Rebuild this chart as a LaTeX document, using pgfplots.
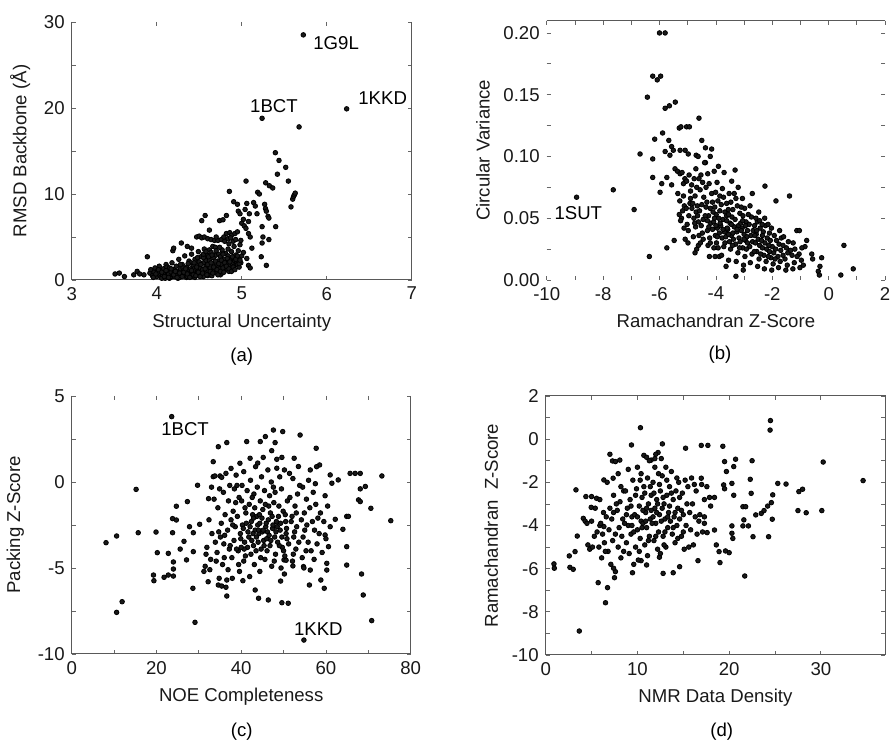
\documentclass[border=0pt]{standalone}
\usepackage{fontspec}
\setmainfont{Liberation Sans}
\usepackage{pgfplots}
\pgfplotsset{compat=1.18}

\newcommand{\lbl}{\fontsize{9.3}{10.5}\selectfont}
\pgfplotsset{
  panel/.style={
    scale only axis, clip=false,
    axis line style={draw=none},
    tick align=inside,
    tick style={color=black!60, line width=0.4pt},
    major tick length=2pt, minor tick length=2pt,
    ticklabel style={font=\lbl, text=black!90},
    label style={font=\lbl, text=black!90},
    /pgf/number format/assume math mode=true,
  },
  dots/.style={only marks, mark=*, mark size=1.15pt, mark options={draw=none, fill=black!90}},
}
\tikzset{spine/.style={draw=black!65, line width=0.5pt}}

\begin{document}
\begin{tikzpicture}
\path[use as bounding box] (0,0) rectangle (445.5pt,371pt);

% (a)
\begin{axis}[panel, at={(35.85pt,231pt)}, anchor=south west,
  width=170pt, height=129pt,
  xmin=3, xmax=7, ymin=0, ymax=30,
  xtick={3,4,5,6,7}, ytick={0,10,20,30}, minor y tick num=1,
  xlabel={Structural Uncertainty}, ylabel={RMSD Backbone (Å)}]
\addplot[dots] table {
3.51 0.7
3.56 0.8
3.62 0.4
3.73 0.6
3.77 1.0
3.80 0.7
3.85 0.6
3.89 2.7
3.92 0.8
3.93 1.2
3.95 0.5
3.97 0.9
3.98 1.4
4.00 0.4
4.01 1.0
4.02 0.7
4.03 1.6
4.04 0.5
4.05 0.3
4.05 1.1
4.06 0.2
4.07 0.6
4.08 1.3
4.09 0.9
4.10 0.2
4.11 1.8
4.12 0.5
4.12 1.5
4.13 1.0
4.14 0.7
4.15 1.4
4.15 0.2
4.16 0.3
4.17 0.9
4.18 2.0
4.18 0.4
4.19 0.6
4.19 3.4
4.20 1.2
4.20 3.7
4.21 0.4
4.22 0.8
4.23 1.6
4.24 0.5
4.25 1.0
4.25 0.2
4.26 2.4
4.26 0.9
4.27 0.3
4.28 1.3
4.29 0.7
4.29 4.3
4.30 1.8
4.31 0.5
4.31 1.4
4.32 1.1
4.33 2.8
4.33 0.6
4.34 0.8
4.35 1.5
4.35 0.3
4.36 0.4
4.36 3.9
4.37 1.0
4.38 2.2
4.38 1.2
4.39 0.6
4.40 1.3
4.40 2.0
4.41 3.0
4.41 3.7
4.42 0.9
4.42 0.4
4.43 1.7
4.44 0.5
4.44 1.3
4.45 2.4
4.45 0.3
4.46 1.1
4.47 0.7
4.47 5.0
4.48 1.9
4.48 1.0
4.49 3.3
4.50 0.8
4.50 5.1
4.50 2.1
4.51 1.4
4.52 2.7
4.52 0.5
4.53 0.6
4.53 4.9
4.53 6.9
4.54 1.2
4.55 2.0
4.55 0.4
4.56 3.6
4.56 5.0
4.57 0.9
4.57 7.5
4.58 1.6
4.58 0.8
4.58 2.3
4.59 2.9
4.60 1.1
4.60 0.5
4.60 4.8
4.61 0.7
4.62 2.3
4.62 5.8
4.62 3.5
4.63 1.4
4.63 0.6
4.64 3.2
4.64 4.7
4.65 0.9
4.65 0.5
4.66 1.9
4.66 3.9
4.67 2.6
4.67 1.1
4.68 1.2
4.68 4.6
4.69 3.8
4.70 1.6
4.70 0.9
4.70 2.9
4.71 0.8
4.72 2.2
4.72 4.6
4.73 3.0
4.73 1.5
4.74 1.3
4.74 6.9
4.75 2.7
4.75 0.6
4.76 1.8
4.76 4.7
4.77 3.5
4.77 0.8
4.78 1.0
4.78 7.0
4.79 2.4
4.80 1.5
4.80 4.5
4.81 3.1
4.81 1.2
4.82 2.0
4.82 5.4
4.82 7.5
4.83 1.2
4.84 2.8
4.84 4.8
4.85 4.2
4.85 1.0
4.855 10.3
4.86 1.7
4.86 5.5
4.87 2.4
4.88 3.3
4.88 5.2
4.88 1.4
4.89 1.9
4.90 2.6
4.906 9.1
4.91 3.9
4.91 1.6
4.92 2.2
4.92 5.4
4.93 2.9
4.94 2.1
4.95 1.8
4.95 8.8
4.95 5.6
4.96 3.4
4.96 8.0
4.97 2.5
4.97 1.5
4.98 4.1
4.98 7.7
4.99 4.6
4.99 2.0
5.00 2.8
5.00 6.6
5.02 3.2
5.02 7.05
5.03 6.3
5.04 8.2
5.05 6.0
5.051 11.5
5.06 8.9
5.06 2.5
5.08 6.8
5.08 5.4
5.08 1.7
5.09 7.7
5.10 5.0
5.10 1.4
5.12 3.7
5.14 9.0
5.16 8.6
5.18 7.7
5.188 10.2
5.208 10.0
5.23 2.7
5.24 6.2
5.24 4.3
5.24 18.8
5.25 5.0
5.27 8.8
5.28 8.3
5.282 11.3
5.29 8.0
5.29 1.7
5.31 7.4
5.32 7.2
5.32 4.7
5.325 10.96
5.365 10.7
5.396 14.8
5.40 6.2
5.42 12.3
5.439 13.9
5.518 13.1
5.549 11.5
5.58 8.5
5.60 9.4
5.61 9.7
5.62 9.9
5.63 10.1
5.675 17.8
5.725 28.5
6.235 19.9
3.96 0.3
3.99 0.7
4.02 1.2
4.06 0.9
4.09 0.4
4.11 1.1
4.14 0.3
4.17 1.3
4.20 0.6
4.22 1.0
4.24 0.3
4.27 0.8
4.28 1.8
4.30 0.4
4.32 0.9
4.34 1.3
4.36 0.7
4.37 1.9
4.39 0.3
4.41 1.1
4.43 0.6
4.44 2.0
4.46 0.5
4.47 1.5
4.49 0.9
4.51 0.4
4.52 1.8
4.54 0.8
4.55 2.6
4.57 1.3
4.59 0.6
4.60 1.8
4.61 2.7
4.63 1.0
4.64 2.0
4.66 0.8
4.67 1.5
4.69 2.2
4.71 1.2
4.72 0.6
4.73 1.9
4.75 1.0
4.76 2.3
4.78 1.4
4.79 0.9
4.80 2.0
4.82 1.6
4.83 2.5
4.85 1.3
4.86 2.1
4.88 1.0
4.89 2.7
4.90 1.5
4.92 1.2
4.93 2.4
4.95 2.8
4.97 1.9
4.98 2.3
4.70 3.4
4.78 3.0
4.65 2.9
4.55 3.0
4.48 2.6
4.58 3.3
4.74 3.8
4.84 3.6
4.90 4.5
4.87 4.9
4.79 5.0
4.70 5.0
4.93 4.7
};
\draw[spine] (rel axis cs:0,1) -- (rel axis cs:0,0) -- (rel axis cs:1,0) -- (rel axis cs:1,1);
\node[anchor=west, font=\lbl] at (axis cs:5.76,27.5) {1G9L};
\node[anchor=west, font=\lbl] at (axis cs:6.29,21.1) {1KKD};
\node[font=\lbl] at (axis cs:5.38,20.2) {1BCT};
\end{axis}

% (b)
\begin{axis}[panel, at={(273.35pt,231pt)}, anchor=south west,
  width=169.2pt, height=129.7pt,
  xmin=-10, xmax=2, ymin=0, ymax=0.21,
  xtick={-10,-8,-6,-4,-2,0,2}, minor x tick num=1,
  ytick={0,0.05,0.1,0.15,0.2}, minor y tick num=1,
  yticklabel style={/pgf/number format/.cd, fixed, fixed zerofill, precision=2},
  scaled y ticks=false,
  xlabel={Ramachandran Z-Score}, ylabel={Circular Variance}]
\addplot[dots] table {
-6.00 0.200
-5.80 0.200
-6.24 0.165
-6.08 0.162
-5.96 0.165
-6.43 0.148
-5.80 0.139
-5.65 0.141
-5.44 0.144
-4.60 0.131
-5.30 0.123
-5.24 0.124
-5.04 0.124
-4.94 0.124
-5.89 0.119
-6.17 0.114
-5.67 0.113
-4.50 0.113
-5.57 0.108
-5.51 0.105
-5.27 0.105
-5.09 0.105
-4.37 0.107
-4.15 0.106
-6.69 0.102
-5.80 0.104
-6.24 0.098
-5.63 0.101
-4.98 0.102
-4.70 0.101
-4.63 0.100
-4.20 0.100
-4.37 0.095
-3.91 0.092
-3.32 0.089
-3.71 0.087
-6.24 0.083
-5.74 0.083
-5.45 0.090
-5.36 0.088
-5.27 0.086
-5.98 0.071
-5.92 0.078
-5.57 0.077
-5.15 0.078
-8.94 0.067
-7.64 0.073
-6.90 0.057
-6.36 0.019
-5.74 0.026
-5.48 0.032
-3.29 0.003
-2.26 0.076
-1.87 0.064
-1.39 0.068
0.54 0.028
0.87 0.009
0.43 0.004
-0.25 0.018
-0.31 0.011
-0.37 0.007
-0.33 0.004
-0.78 0.032
-0.84 0.027
-1.13 0.040
-1.04 0.040
-0.60 0.021
-0.57 0.017
-3.64 0.011
-3.03 0.008
-4.23 0.019
-4.03 0.019
-3.88 0.019
-4.74 0.022
-4.68 0.025
-4.62 0.028
-5.09 0.033
-5.13 0.042
-5.22 0.050
-5.18 0.056
-5.12 0.060
-5.25 0.048
-5.20 0.087
-5.10 0.082
-5.02 0.045
-4.96 0.052
-5.05 0.058
-4.92 0.062
-4.98 0.040
-5.04 0.080
-4.95 0.085
-4.90 0.072
-4.99 0.030
-4.80 0.035
-4.72 0.043
-4.78 0.050
-4.70 0.055
-4.82 0.062
-4.74 0.068
-4.68 0.075
-4.77 0.082
-4.71 0.090
-4.55 0.030
-4.48 0.038
-4.52 0.044
-4.45 0.049
-4.58 0.056
-4.50 0.061
-4.43 0.067
-4.56 0.073
-4.47 0.079
-4.53 0.085
-4.40 0.095
-4.28 0.028
-4.22 0.034
-4.30 0.040
-4.18 0.046
-4.26 0.052
-4.20 0.058
-4.32 0.063
-4.15 0.070
-4.24 0.078
-4.29 0.086
-4.07 0.026
-3.98 0.030
-4.02 0.036
-3.95 0.042
-4.08 0.047
-3.99 0.053
-4.04 0.059
-3.93 0.064
-4.01 0.071
-3.96 0.079
-4.06 0.088
-3.80 0.020
-3.72 0.027
-3.78 0.034
-3.70 0.039
-3.83 0.044
-3.75 0.049
-3.68 0.055
-3.81 0.061
-3.73 0.067
-3.77 0.074
-3.55 0.016
-3.48 0.025
-3.52 0.031
-3.45 0.036
-3.58 0.041
-3.50 0.046
-3.43 0.051
-3.56 0.057
-3.47 0.063
-3.53 0.070
-3.44 0.080
-3.28 0.015
-3.22 0.022
-3.30 0.029
-3.18 0.034
-3.26 0.039
-3.20 0.044
-3.32 0.049
-3.15 0.054
-3.24 0.060
-3.29 0.066
-3.21 0.075
-3.02 0.012
-2.97 0.019
-3.05 0.026
-2.95 0.032
-3.00 0.037
-3.07 0.042
-2.93 0.047
-3.04 0.052
-2.98 0.058
-3.06 0.066
-2.78 0.014
-2.72 0.021
-2.80 0.027
-2.70 0.031
-2.76 0.036
-2.68 0.040
-2.82 0.045
-2.74 0.051
-2.79 0.060
-2.71 0.070
-2.52 0.011
-2.47 0.017
-2.55 0.023
-2.45 0.028
-2.50 0.033
-2.57 0.037
-2.43 0.042
-2.53 0.047
-2.48 0.055
-2.28 0.009
-2.22 0.015
-2.30 0.020
-2.20 0.025
-2.26 0.030
-2.18 0.034
-2.32 0.039
-2.24 0.044
-2.27 0.050
-2.02 0.008
-1.97 0.013
-2.05 0.018
-1.95 0.022
-2.00 0.027
-2.07 0.032
-1.93 0.036
-2.03 0.042
-1.78 0.010
-1.72 0.015
-1.80 0.019
-1.70 0.024
-1.76 0.029
-1.68 0.034
-1.74 0.040
-1.52 0.008
-1.47 0.012
-1.55 0.017
-1.45 0.022
-1.50 0.026
-1.43 0.031
-1.27 0.009
-1.22 0.014
-1.30 0.020
-1.20 0.025
-1.26 0.030
-1.02 0.010
-0.97 0.016
-1.05 0.021
-0.95 0.026
-3.60 0.042
-3.40 0.038
-3.10 0.040
-2.90 0.035
-3.85 0.046
-3.35 0.043
-2.60 0.030
-2.35 0.026
-3.90 0.050
-3.65 0.035
-4.85 0.058
-4.62 0.047
-4.38 0.052
-4.12 0.041
-3.88 0.038
-3.62 0.048
-3.38 0.033
-3.12 0.046
-2.88 0.040
-2.62 0.036
-2.38 0.032
-2.12 0.028
-1.88 0.025
-1.62 0.020
-4.90 0.066
-4.66 0.060
-4.35 0.059
-4.10 0.055
-3.86 0.056
-3.62 0.052
-3.40 0.057
-3.14 0.031
-2.92 0.025
-2.64 0.023
-2.41 0.021
-2.14 0.019
-1.90 0.017
-1.62 0.028
-4.45 0.033
-4.20 0.030
-3.92 0.026
-3.68 0.030
-3.41 0.028
-3.16 0.026
-2.88 0.030
-2.63 0.044
-2.36 0.045
-2.10 0.038
-4.60 0.036
-4.00 0.044
-3.55 0.037
-3.00 0.033
-2.55 0.040
-2.10 0.023
-3.25 0.041
-3.75 0.041
-4.25 0.043
-4.75 0.046
-5.35 0.070
-5.28 0.064
-5.15 0.068
-5.30 0.053
-4.86 0.077
-4.60 0.082
-4.35 0.075
-4.12 0.063
-3.86 0.068
-3.62 0.062
-3.35 0.070
-3.10 0.059
-2.85 0.053
-2.58 0.050
-2.35 0.036
-2.15 0.045
-1.85 0.032
-1.60 0.035
-1.35 0.024
-1.12 0.019
-0.90 0.012
-3.95 0.035
-3.45 0.045
-2.95 0.044
-2.45 0.048
-4.30 0.048
-4.65 0.052
-4.05 0.050
-3.55 0.053
-3.05 0.048
};
\draw[spine] (rel axis cs:0,1) -- (rel axis cs:1,1);
\node[font=\lbl] at (axis cs:-8.88,0.054) {1SUT};
\end{axis}

% (c)
\begin{axis}[panel, at={(35.85pt,44pt)}, anchor=south west,
  width=169.5pt, height=129pt,
  xmin=0, xmax=80, ymin=-10, ymax=5,
  xtick={0,20,40,60,80}, minor x tick num=1,
  ytick={-10,-5,0,5}, minor y tick num=1,
  xlabel={NOE Completeness}, ylabel={Packing Z-Score}]
\addplot[dots] table {
23.6 3.80
54.8 -9.19
8.1 -3.53
10.6 -3.14
10.6 -7.58
11.9 -6.96
15.2 -0.43
15.7 -2.95
19.9 -2.91
20.2 -4.11
19.3 -5.41
19.4 -5.74
21.8 -5.54
22.8 -5.41
24.0 -5.47
22.8 -4.15
24.0 -4.65
24.0 -5.06
23.8 -2.13
24.7 -2.21
24.7 -1.41
27.3 -1.14
23.8 -2.95
26.5 -3.45
25.6 -3.90
27.1 -4.53
28.7 -4.05
28.6 -6.18
29.1 -8.16
29.7 -0.19
30.2 -2.46
28.7 -2.95
27.8 -2.60
32.3 -0.97
33.4 0.31
33.8 0.35
35.0 0.35
35.4 0.27
34.6 2.05
36.6 2.29
33.4 1.18
41.3 2.35
44.5 2.35
45.7 2.64
47.6 3.02
49.8 2.93
53.9 2.73
48.0 2.29
47.2 1.82
57.7 1.96
42.1 1.38
45.2 1.43
48.4 1.32
49.6 1.43
52.5 1.38
37.6 0.79
39.7 1.09
43.4 0.89
58.5 0.99
57.8 0.89
56.3 0.70
65.7 0.50
66.9 0.50
68.1 0.50
73.2 0.35
61.0 0.41
62.9 0.12
61.4 -0.07
68.1 -0.40
69.3 -0.26
70.6 -1.53
75.3 -2.25
67.7 -1.04
68.1 -1.14
64.9 -2.00
65.3 -2.00
64.0 -2.75
64.9 -3.76
64.9 -4.83
68.4 -5.35
68.8 -6.57
70.8 -8.06
58.8 -5.70
59.6 -6.18
56.1 -5.99
52.2 -4.88
50.1 -4.53
50.6 -4.55
49.3 -5.76
50.2 -5.35
49.6 -7.02
51.1 -7.05
44.1 -6.76
46.4 -6.86
43.3 -6.28
40.4 -5.74
36.6 -5.70
36.4 -6.12
36.6 -6.63
34.6 -5.99
35.4 -6.05
60.2 -4.73
60.2 -5.12
60.6 -3.76
54.7 -4.92
56.3 -5.12
59.8 -3.08
61.0 -2.60
62.2 -2.17
31.2 -5.2
32.8 -4.5
31.9 -3.8
33.1 -3.0
32.4 -2.2
33.6 -1.0
32.2 -5.8
31.5 -4.9
34.8 -5.6
35.6 -4.8
34.3 -4.1
35.9 -3.6
34.7 -2.9
35.3 -2.4
34.5 -1.5
35.8 -0.6
35.1 -3.2
36.9 -5.1
37.8 -4.4
37.2 -3.9
38.3 -3.4
36.8 -2.8
37.6 -2.2
38.1 -1.7
37.0 -1.1
38.4 -0.4
37.4 -3.7
39.6 -5.2
40.6 -4.6
39.3 -4.0
40.8 -3.5
39.8 -3.0
40.3 -2.5
39.1 -2.0
40.9 -1.5
39.5 -0.9
40.2 -0.2
40.5 -2.7
39.9 -3.3
42.0 -5.5
43.1 -4.8
42.3 -4.2
42.9 -3.7
41.8 -3.2
43.3 -2.8
42.4 -2.3
42.7 -1.9
41.9 -1.3
43.0 -0.7
42.2 0.1
42.8 -3.0
44.4 -5.2
45.6 -4.5
44.7 -3.9
45.3 -3.4
44.2 -3.0
45.8 -2.6
44.9 -2.1
45.1 -1.6
44.5 -1.1
45.5 -0.5
44.8 0.3
45.9 -2.4
44.1 -2.8
47.2 -4.9
48.1 -4.2
46.8 -3.7
47.9 -3.2
47.4 -2.7
48.3 -2.3
46.9 -1.8
47.7 -1.2
48.0 -0.6
47.1 0.0
48.4 0.8
47.5 -2.5
49.4 -5.0
50.3 -4.3
49.7 -3.8
50.8 -3.3
49.2 -2.8
50.5 -2.3
49.9 -1.7
50.9 -1.1
49.5 -0.4
50.2 0.7
49.0 -3.7
52.1 -4.6
52.9 -3.9
52.4 -3.2
53.1 -2.6
52.0 -2.0
52.7 -1.4
53.3 -0.7
52.2 0.2
54.8 -5.0
55.3 -4.0
54.6 -3.2
55.5 -2.5
54.9 -1.8
55.4 -1.0
54.5 -0.3
57.2 -4.5
57.9 -3.6
57.3 -2.8
58.1 -2.1
57.6 -1.3
57.0 -0.6
60.0 -3.3
59.5 -2.3
60.4 -1.4
59.8 -0.8
41.2 -2.4
43.7 -2.0
46.2 -2.9
46.5 -1.4
44.0 -3.5
41.5 -3.8
48.8 -2.0
46.0 -3.3
43.5 -4.0
42.6 -0.9
31.7 -4.2
33.9 -3.5
32.6 -5.1
34.1 -4.6
33.0 -0.3
34.9 -0.4
36.2 -1.9
36.0 -4.4
37.9 -5.6
38.6 -2.6
38.9 -3.9
38.7 -1.2
39.4 -4.8
39.0 -0.2
40.1 -1.1
40.7 -3.9
41.0 -4.3
41.4 -0.5
41.6 -2.9
41.1 -1.8
42.5 -3.4
43.2 -1.5
43.9 -2.5
43.6 -3.2
43.8 -0.3
44.3 -1.9
44.6 -4.4
45.0 -2.9
45.4 -3.7
45.7 -1.3
46.1 -4.0
46.4 -2.2
46.7 -0.8
47.0 -3.4
47.3 -2.0
47.8 -4.6
47.6 -0.3
48.2 -2.9
48.6 -3.5
48.9 -1.4
49.3 -2.4
49.6 -3.2
50.0 -4.0
50.4 -1.9
50.7 -2.7
51.2 -3.6
51.5 -0.9
51.8 -2.3
52.3 -4.2
52.6 -2.9
53.0 -1.8
53.6 -3.5
53.8 -0.2
54.2 -2.2
54.4 -4.4
55.0 -2.8
55.8 -3.5
56.2 -1.5
56.5 -4.0
56.8 -2.3
57.5 -0.1
58.4 -3.0
58.7 -1.8
59.1 -4.1
37.3 -0.2
36.4 0.5
38.8 0.4
40.6 0.6
43.9 1.1
46.3 0.7
49.1 0.3
51.4 0.5
53.5 0.9
55.9 0.1
36.1 -3.1
38.0 -2.5
40.0 -3.8
42.1 -2.6
44.4 -2.4
46.6 -3.1
48.5 -2.6
50.6 -3.0
42.9 -2.1
45.2 -2.8
};
\draw[spine] (rel axis cs:0,1) -- (rel axis cs:0,0) -- (rel axis cs:1,0) -- (rel axis cs:1,1);
\node[font=\lbl] at (axis cs:26.75,3.06) {1BCT};
\node[font=\lbl] at (axis cs:58.2,-8.55) {1KKD};
\end{axis}

% (d)
\begin{axis}[panel, at={(272.85pt,43.5pt)}, anchor=south west,
  width=169.7pt, height=129.5pt,
  xmin=0, xmax=37, ymin=-10, ymax=2,
  xtick={0,10,20,30}, minor x tick num=1,
  ytick={-10,-8,-6,-4,-2,0,2}, minor y tick num=1,
  xlabel={NMR Data Density}, ylabel={Ramachandran~ Z-Score}]
\addplot[dots] table {
24.5 0.86
24.46 0.42
10.33 0.53
9.35 -0.27
12.72 -0.22
16.96 -0.29
17.68 -0.29
19.31 -0.33
15.25 -0.42
12.25 -0.62
12.0 -0.70
7.0 -0.70
7.28 -1.01
7.6 -1.04
8.08 -0.97
10.7 -0.75
11.0 -0.84
11.5 -0.97
11.9 -0.90
19.5 -1.04
19.7 -1.50
20.7 -0.93
20.5 -1.27
22.5 -1.00
30.25 -1.06
34.6 -1.92
25.3 -2.05
26.2 -2.08
27.6 -2.43
28.0 -2.32
22.3 -1.86
22.4 -2.51
20.3 -2.05
20.5 -2.60
19.4 -2.12
19.5 -2.30
24.75 -2.58
24.2 -3.10
24.6 -2.94
22.9 -3.51
23.5 -3.44
23.8 -3.31
21.5 -3.13
21.8 -3.13
21.6 -3.74
27.5 -3.31
28.4 -3.41
30.1 -3.31
24.7 -3.71
21.5 -4.02
22.1 -4.02
20.3 -4.02
20.3 -4.36
20.4 -4.60
18.9 -5.21
20.0 -5.26
19.6 -5.18
19.0 -5.72
21.7 -6.34
22.6 -4.52
24.3 -4.52
18.4 -4.21
18.6 -4.90
17.6 -4.33
16.6 -5.63
14.6 -5.91
13.9 -6.19
12.8 -6.22
12.4 -5.47
10.4 -5.63
11.0 -5.83
9.46 -6.19
7.6 -6.14
7.4 -5.98
7.5 -6.42
6.74 -6.88
5.72 -6.65
6.52 -7.58
3.66 -8.89
0.9 -5.78
0.94 -5.98
2.57 -5.41
2.64 -5.94
3.0 -6.03
3.2 -5.21
3.3 -2.35
3.44 -4.49
4.1 -3.67
4.3 -3.80
4.5 -3.90
4.38 -2.66
5.0 -2.66
4.96 -3.16
5.54 -2.74
6.34 -1.89
6.34 -4.05
7.35 -1.81
4.6 -4.9
4.8 -5.1
5.9 -4.0
16.96 -1.81
17.57 -2.2
17.86 -2.7
18.4 -2.7
17.98 -3.1
17.3 -3.6
17.3 -3.9
16.7 -3.8
5.1 -5.0
5.3 -4.5
5.0 -3.8
5.4 -3.2
6.1 -5.5
5.8 -5.0
6.2 -4.4
6.0 -3.9
6.3 -3.4
5.9 -2.8
7.1 -5.8
6.8 -5.2
7.3 -4.7
6.9 -4.2
7.2 -3.7
7.0 -3.2
7.4 -2.6
6.7 -2.0
8.2 -5.5
7.9 -5.0
8.3 -4.5
8.0 -4.1
8.4 -3.7
7.8 -3.3
8.1 -2.9
8.5 -2.4
7.9 -1.6
9.1 -5.3
8.8 -4.8
9.3 -4.4
9.0 -4.0
9.4 -3.6
8.9 -3.2
9.2 -2.8
8.7 -2.4
9.5 -1.9
9.0 -1.4
10.1 -5.6
9.8 -5.0
10.3 -4.6
10.0 -4.2
10.4 -3.8
9.7 -3.5
10.2 -3.1
10.5 -2.7
9.9 -2.3
10.3 -1.9
10.0 -1.3
11.1 -5.4
10.8 -4.9
11.3 -4.5
11.0 -4.1
11.4 -3.7
10.9 -3.4
11.2 -3.0
11.5 -2.6
10.7 -2.2
11.1 -1.8
11.3 -1.0
12.2 -5.1
11.8 -4.7
12.3 -4.3
12.0 -3.9
12.4 -3.5
11.9 -3.2
12.1 -2.8
12.5 -2.4
11.7 -2.0
12.3 -1.6
12.6 -0.9
13.1 -5.0
12.8 -4.5
13.3 -4.1
13.0 -3.7
13.4 -3.4
12.9 -3.0
13.2 -2.6
13.5 -2.2
12.7 -1.7
13.1 -1.3
14.1 -4.8
13.8 -4.4
14.3 -4.0
14.0 -3.6
14.4 -3.2
13.9 -2.8
14.2 -2.4
14.5 -2.0
13.7 -1.5
15.1 -5.1
14.8 -4.5
15.3 -4.0
15.0 -3.5
15.4 -3.0
14.9 -2.5
15.2 -1.9
16.1 -4.9
15.8 -4.2
16.3 -3.6
16.0 -3.0
16.4 -2.4
15.9 -1.8
17.1 -4.3
16.8 -3.5
17.3 -2.8
17.0 -2.1
10.6 -3.3
11.6 -3.9
12.7 -3.2
13.6 -3.8
9.6 -4.3
11.8 -2.5
10.5 -4.1
12.9 -4.9
14.6 -3.7
8.6 -3.9
5.6 -4.3
6.5 -5.2
6.6 -3.6
7.6 -4.4
7.7 -3.0
8.5 -5.2
8.2 -2.2
9.6 -5.8
9.3 -3.1
9.8 -2.6
10.2 -5.2
10.6 -3.9
10.8 -2.5
10.4 -1.6
11.0 -3.2
11.2 -4.7
11.4 -2.2
11.7 -3.6
11.9 -1.3
12.0 -4.5
12.2 -3.0
12.4 -2.1
12.6 -3.8
12.8 -2.7
13.0 -4.3
13.2 -1.9
13.5 -3.1
13.7 -2.5
13.9 -4.1
14.1 -3.4
14.3 -1.8
14.6 -2.7
14.8 -3.3
15.0 -4.3
15.5 -2.2
15.7 -3.4
16.2 -2.1
16.5 -4.4
10.0 -3.6
10.9 -3.8
11.5 -3.3
12.1 -3.4
13.3 -3.6
9.4 -4.0
8.8 -3.5
7.4 -3.4
6.4 -4.8
14.4 -4.6
15.6 -5.0
12.5 -5.3
};
\draw[spine] (rel axis cs:0,0) rectangle (rel axis cs:1,1);
\end{axis}

\node[font=\lbl] at (120.85pt,192.65pt) {(a)};
\node[font=\lbl] at (360pt,193.5pt) {(b)};
\node[font=\lbl] at (120.85pt,5.15pt) {(c)};
\node[font=\lbl] at (360.85pt,5.15pt) {(d)};
\end{tikzpicture}
\end{document}
